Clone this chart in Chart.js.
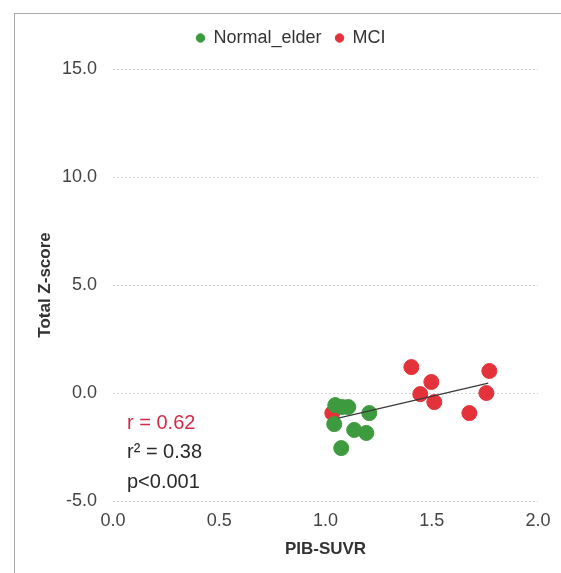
<!DOCTYPE html>
<html>
<head>
<meta charset="utf-8">
<script src="https://cdn.jsdelivr.net/npm/chart.js@4"></script>
<style>
  body { margin: 0; background: #fff; }
  #wrap { position: relative; width: 561px; height: 573px; }
  #frame { position: absolute; left: 14px; top: 13px; right: 0; bottom: 0; border-left: 1px solid #a8a8a8; border-top: 1px solid #a8a8a8; pointer-events: none; }
</style>
</head>
<body>
<div id="wrap">
  <canvas id="chart" width="561" height="573"></canvas>
  <div id="frame"></div>
</div>
<script>
// PIB-SUVR (x) vs Total Z-score (y)
const normalX = [1.046, 1.079, 1.107, 1.206, 1.041, 1.135, 1.192, 1.074];
const normalY = [-0.56, -0.65, -0.65, -0.93, -1.44, -1.71, -1.85, -2.55];
const mciX = [1.032, 1.404, 1.771, 1.498, 1.446, 1.757, 1.512, 1.677];
const mciY = [-0.93, 1.20, 1.02, 0.51, -0.05, 0.00, -0.42, -0.93];
const trendX = [1.06, 1.766];
const trendY = [-1.16, 0.46];
const statLines = ["r = 0.62", "r\u00b2 = 0.38", "p<0.001"];

const green = '#3e9a3e';
const red = '#e4323a';
const tickFont = { family: 'Liberation Sans, Arial, sans-serif', size: 18 };
const titleFont = { family: 'Liberation Sans, Arial, sans-serif', size: 17, weight: 'bold' };

function pts(xs, ys) {
  return xs.map((x, i) => ({ x: x, y: ys[i] }));
}

// fix legend height so the plot top lands where it should,
// and nudge it right a bit like in the original
const legendFix = {
  id: 'legendFix',
  beforeLayout(chart) {
    const lg = chart.legend;
    if (lg && !lg._fixed) {
      const fit = lg.fit;
      lg.fit = function() { fit.call(this); this.height = 54; };
      lg._fixed = true;
    }
  },
  afterLayout(chart) {
    const lg = chart.legend;
    if (lg) {
      lg.left += 22;
      lg.right += 22;
    }
  }
};

const statsText = {
  id: 'statsText',
  afterDatasetsDraw(chart) {
    const ctx = chart.ctx;
    const left = chart.chartArea.left + 14;
    const top = chart.chartArea.top;
    ctx.save();
    ctx.font = '20px Liberation Sans, Arial, sans-serif';
    ctx.textBaseline = 'middle';
    ctx.textAlign = 'left';
    statLines.forEach((t, i) => {
      ctx.fillStyle = i == 0 ? '#d42a48' : '#2a2a2a';
      ctx.fillText(t, left, top + 354 + i * 29.5);
    });
    ctx.restore();
  }
};

new Chart(document.getElementById('chart'), {
  type: 'scatter',
  data: {
    datasets: [
      {
        label: 'Normal_elder',
        data: pts(normalX, normalY),
        backgroundColor: green,
        borderColor: green,
        pointRadius: 7.5,
        pointStyle: 'circle',
        order: 1
      },
      {
        label: 'MCI',
        data: pts(mciX, mciY),
        backgroundColor: red,
        borderColor: red,
        pointRadius: 7.5,
        pointStyle: 'circle',
        order: 1
      },
      {
        type: 'line',
        label: 'trend',
        data: pts(trendX, trendY),
        borderColor: '#3a3a3a',
        borderWidth: 1.2,
        pointRadius: 0,
        fill: false,
        order: 0
      }
    ]
  },
  options: {
    responsive: false,
    animation: false,
    layout: { padding: { top: 15, right: 23, left: 0, bottom: 0 } },
    plugins: {
      tooltip: { enabled: false },
      legend: {
        position: 'top',
        labels: {
          usePointStyle: true,
          boxWidth: 8,
          boxHeight: 6,
          padding: 14,
          color: '#333',
          font: tickFont,
          filter: item => item.text != 'trend'
        }
      }
    },
    scales: {
      x: {
        type: 'linear',
        min: 0,
        max: 2,
        ticks: {
          stepSize: 0.5,
          padding: 9,
          color: '#444',
          font: tickFont,
          callback: v => v.toFixed(1)
        },
        grid: { display: false, drawTicks: false },
        border: { display: false },
        title: { display: true, text: 'PIB-SUVR', color: '#333', font: titleFont, padding: { top: 0, bottom: 13 } },
        afterFit: s => { s.height = 72; }
      },
      y: {
        min: -5,
        max: 15,
        ticks: {
          stepSize: 5,
          padding: 16,
          color: '#444',
          font: tickFont,
          callback: v => v.toFixed(1)
        },
        grid: { color: '#cfcfcf', drawTicks: false, tickBorderDash: [2, 2] },
        border: { display: false, dash: [2, 2] },
        title: { display: true, text: 'Total Z-score', color: '#333', font: titleFont, padding: { top: 35, bottom: 0 } },
        afterFit: s => { s.width = 113; }
      }
    }
  },
  plugins: [legendFix, statsText]
});
</script>
</body>
</html>
